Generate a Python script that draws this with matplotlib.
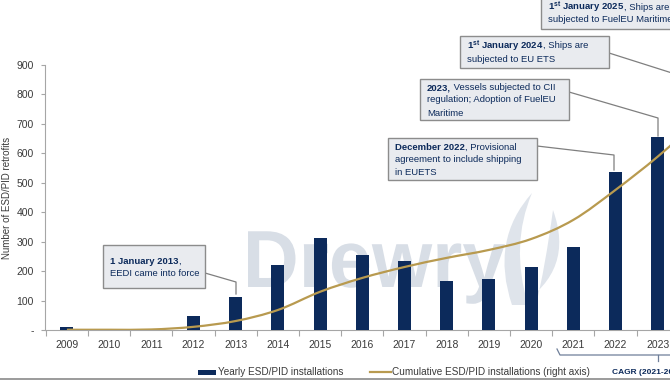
import matplotlib

matplotlib.use("Agg")

import matplotlib.pyplot as plt  # noqa: E402
from matplotlib.font_manager import FontProperties  # noqa: E402
from matplotlib.lines import Line2D  # noqa: E402
from matplotlib.patches import PathPatch, Rectangle  # noqa: E402
from matplotlib.path import Path  # noqa: E402
from matplotlib.textpath import TextPath  # noqa: E402
from matplotlib.transforms import Affine2D, IdentityTransform  # noqa: E402

plt.rcParams["font.family"] = ["Liberation Sans", "DejaVu Sans"]
plt.rcParams["mathtext.fontset"] = "custom"
plt.rcParams["mathtext.rm"] = "Liberation Sans"
plt.rcParams["mathtext.bf"] = "Liberation Sans:bold"

# Data.
years = ["2009", "2010", "2011", "2012", "2013", "2014", "2015", "2016",
         "2017", "2018", "2019", "2020", "2021", "2022", "2023"]
yearly = [10, 0, 0, 47, 113, 221, 311, 256, 235, 166, 172, 213, 283, 538, 657]
# cumulative (right axis, hidden by the crop); last point is the off-frame 2024
cumulative = [5, 5, 10, 60, 170, 378, 722, 983, 1189, 1361, 1511, 1717,
              2078, 2644, 3272, 3980]
y_ticks = [0, 100, 200, 300, 400, 500, 600, 700, 800, 900]
y_tick_labels = ["-", "100", "200", "300", "400", "500", "600", "700", "800", "900"]

NAVY = "#0c2a5b"
GOLD = "#b89a4f"
GREY = "#a6a6a6"
TEXT = "#3a3a3a"
BOX_FILL = "#e9ebef"
BOX_EDGE = "#8c8c8c"
MARK = "#d8dee6"

W, H = 670, 380
fig = plt.figure(figsize=(W / 100, H / 100), dpi=100)


def fx(x):
    return x / W


def fy(y):
    return 1 - y / H


ax = fig.add_axes([fx(45), fy(330), fx(670 - 45), (330 - 65) / H])
ax.set_zorder(2)
ax.patch.set_visible(False)

xs = list(range(len(years)))
ax.bar(xs, yearly, width=0.31, color=NAVY, zorder=3)
ax.set_xlim(-0.52, 14.29)
ax.set_ylim(0, 900)
ax.set_yticks(y_ticks)
ax.set_yticklabels(y_tick_labels)
ax.set_xticks(xs)
ax.set_xticklabels(years)
ax.set_xticks([x + 0.5 for x in xs[:-1]] + [-0.5], minor=True)
ax.tick_params(axis="x", which="major", length=0, pad=7, labelsize=7.5, labelcolor=TEXT)
ax.tick_params(axis="x", which="minor", length=4, color=GREY, width=0.8)
ax.tick_params(axis="y", length=3, color=GREY, width=0.8, pad=5, labelsize=7.5,
               labelcolor=TEXT)
for s in ("top", "right"):
    ax.spines[s].set_visible(False)
for s in ("left", "bottom"):
    ax.spines[s].set_color(GREY)
    ax.spines[s].set_linewidth(0.8)
ax.set_ylabel("Number of ESD/PID retrofits", fontsize=7, color=TEXT, labelpad=3)

# cumulative line on a twin axis, smoothed like the Excel original
ax2 = ax.twinx()
ax2.set_zorder(3)
ax2.set_ylim(0, 5000)
ax2.set_yticks([])
for s in ax2.spines.values():
    s.set_visible(False)
pts = list(zip(range(len(cumulative)), cumulative))
verts = [pts[0]]
codes = [Path.MOVETO]
for i in range(len(pts) - 1):
    p0 = pts[max(i - 1, 0)]
    p1, p2 = pts[i], pts[i + 1]
    p3 = pts[min(i + 2, len(pts) - 1)]
    c1 = (p1[0] + (p2[0] - p0[0]) / 6, p1[1] + (p2[1] - p0[1]) / 6)
    c2 = (p2[0] - (p3[0] - p1[0]) / 6, p2[1] - (p3[1] - p1[1]) / 6)
    verts += [c1, c2, p2]
    codes += [Path.CURVE4] * 3
ax2.add_patch(PathPatch(Path(verts, codes), fill=False, edgecolor=GOLD, lw=1.6))

# watermark: condensed "Drewry" word plus flame, in display pixels
word = TextPath((0, 0), "Drewry", size=81,
                prop=FontProperties(family="Liberation Sans", weight="bold"))
bb = word.get_extents()
sx = (505 - 248) / bb.width
tr = Affine2D().translate(-bb.x0, 0).scale(sx, 1.0).translate(248, H - 287)
fig.add_artist(PathPatch(word, facecolor=MARK, edgecolor="none", zorder=1,
                         transform=tr + IdentityTransform()))


def flame(points):
    v = [(x, H - y) for x, y in points] + [(0, 0)]
    c = [Path.MOVETO] + [Path.CURVE3] * (len(points) - 1) + [Path.CLOSEPOLY]
    fig.add_artist(PathPatch(Path(v, c), facecolor="#dfe4eb", edgecolor="none",
                             zorder=1, transform=IdentityTransform()))


flame([(512, 305), (490, 240), (532, 193), (510, 245), (528, 305)])
flame([(520, 305), (575, 270), (553, 210), (545, 268), (536, 305)])


def rich_line(x, y, bold, rest):
    t = fig.text(fx(x), fy(y), bold, fontsize=6.8, fontweight="bold", color=NAVY,
                 va="center", ha="left", zorder=6)
    if rest:
        fig.add_artist(plt.Annotation(rest, xy=(1, 0.5), xycoords=t,
                                      va="center", ha="left", fontsize=6.8,
                                      color=NAVY, zorder=6))


def box(x0, y0, x1, y1, leader):
    fig.add_artist(Rectangle((fx(x0), fy(y1)), fx(x1 - x0), (y1 - y0) / H,
                             facecolor=BOX_FILL, edgecolor=BOX_EDGE, lw=1.0,
                             transform=fig.transFigure, zorder=5))
    lx, ly = zip(*leader)
    fig.add_artist(Line2D([fx(v) for v in lx], [fy(v) for v in ly],
                          color="#7f7f7f", lw=0.9, transform=fig.transFigure,
                          zorder=4))


box(103, 245, 205, 288, [(205, 273), (236, 282), (236, 294)])
rich_line(110, 261, "1 January 2013", ",")
rich_line(110, 273, "", "EEDI came into force")

box(388, 138, 537, 180, [(537, 146), (614, 155), (614, 170)])
rich_line(395, 147, "December 2022", ", Provisional")
rich_line(395, 160, "", "agreement to include shipping")
rich_line(395, 172, "", "in EUETS")

box(420, 79, 569, 120, [(569, 92), (658, 118), (658, 136)])
rich_line(427, 88, "2023,", " Vessels subjected to CII")
rich_line(427, 100, "", "regulation; Adoption of FuelEU")
rich_line(427, 113, "", "Maritime")

box(460, 36, 609, 68, [(609, 53), (672, 73)])
rich_line(467, 46, r"1$^{\mathbf{st}}$ January 2024", ", Ships are")
rich_line(467, 59, "", "subjected to EU ETS")

box(541, -5, 690, 29, [(690, 20), (700, 20)])
rich_line(548, 7, r"1$^{\mathbf{st}}$ January 2025", ", Ships are")
rich_line(548, 20, "", "subjected to FuelEU Maritime")

# CAGR bracket under 2021-2023
fig.add_artist(Line2D([fx(557), fx(560), fx(672)], [fy(349), fy(355), fy(355)],
                      color="#6f7f99", lw=0.9, transform=fig.transFigure))
fig.add_artist(Line2D([fx(658), fx(658)], [fy(355), fy(361)],
                      color="#6f7f99", lw=0.9, transform=fig.transFigure))

# legend
fig.add_artist(Rectangle((fx(198), fy(374.5)), fx(18), 5 / H, facecolor=NAVY,
                         edgecolor="none", transform=fig.transFigure))
fig.text(fx(218), fy(372), "Yearly ESD/PID installations", fontsize=7.2,
         color=TEXT, va="center", ha="left")
fig.add_artist(Line2D([fx(370), fx(391)], [fy(371.5), fy(371.5)], color=GOLD,
                      lw=1.6, transform=fig.transFigure))
fig.text(fx(392), fy(372), "Cumulative ESD/PID installations (right axis)",
         fontsize=7.2, color=TEXT, va="center", ha="left")
fig.text(fx(612), fy(372), "CAGR (2021-2023)", fontsize=6, fontweight="bold",
         color=NAVY, va="center", ha="left")
fig.add_artist(Line2D([0, 1], [fy(378.5), fy(378.5)], color="#8a8a8a", lw=1.2,
                      transform=fig.transFigure))

fig.savefig("out.png", dpi=100)
